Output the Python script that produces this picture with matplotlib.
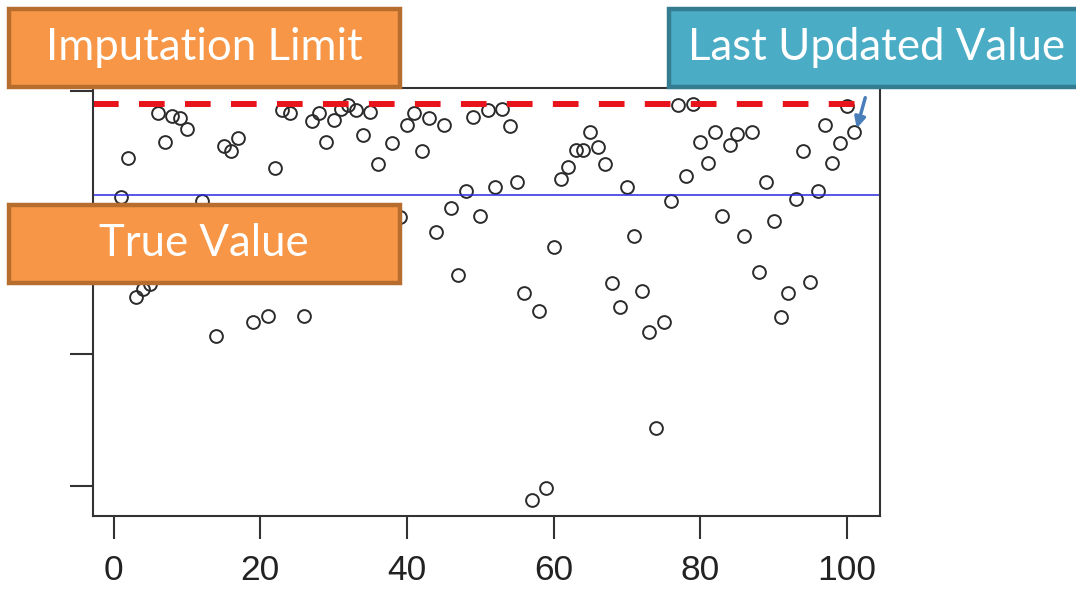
import matplotlib
matplotlib.use("Agg")
import matplotlib.pyplot as plt
from matplotlib.patches import Rectangle, FancyArrowPatch

# ---- data ----
idx = list(range(1, 102))
values = [2.19, 2.49, 1.43, 1.49, 1.53, 2.83, 2.61, 2.81, 2.79, 2.71,
          1.86, 2.16, 1.71, 1.14, 2.58, 2.54, 2.64, 1.98, 1.24, 1.79,
          1.29, 2.41, 2.85, 2.83, 1.64, 1.29, 2.77, 2.83, 2.61, 2.78,
          2.86, 2.89, 2.85, 2.66, 2.84, 2.44, 1.90, 2.60, 2.04, 2.74,
          2.83, 2.54, 2.79, 1.93, 2.74, 2.11, 1.60, 2.24, 2.80, 2.05,
          2.85, 2.27, 2.86, 2.73, 2.31, 1.46, -0.11, 1.33, -0.02, 1.81,
          2.33, 2.42, 2.55, 2.55, 2.69, 2.57, 2.44, 1.54, 1.36, 2.27,
          1.90, 1.48, 1.17, 0.44, 1.24, 2.16, 2.89, 2.35, 2.90, 2.61,
          2.45, 2.69, 2.05, 2.59, 2.67, 1.90, 2.69, 1.62, 2.31, 2.01,
          1.28, 1.46, 2.18, 2.54, 1.55, 2.24, 2.74, 2.45, 2.60, 2.88,
          2.69]
imputation_limit = 2.90
true_value = 2.205
x_ticks = [0, 20, 40, 60, 80, 100]
y_ticks = [0, 1, 2, 3]
box_labels = ["Imputation Limit", "True Value", "Last Updated Value"]

W, H = 1076, 594
fig = plt.figure(figsize=(W / 100, H / 100), dpi=100)
fig.patch.set_facecolor("white")

def fx(px):
    return px / W

def fy(py):
    return 1 - py / H

ax = fig.add_axes([fx(93), fy(516), fx(880) - fx(93), fy(88) - fy(516)])

ax.plot(idx, values, linestyle="none", marker="o", markersize=9.2,
        markerfacecolor="none", markeredgecolor="#2b2b2b", markeredgewidth=1.4)
ax.axhline(imputation_limit, color="#e8141c", linewidth=4.3,
           dashes=(4.3, 3.4), xmax=0.99)
ax.axhline(true_value, color="#2a2ae0", linewidth=1.1)

lo, hi = min(values), max(values)
pad = 0.04 * (hi - lo)
ax.set_ylim(lo - pad, hi + pad)
ax.set_xlim(-2.8, 104.5)
ax.set_xticks(x_ticks)
ax.set_xticklabels([str(t) for t in x_ticks])
ax.set_yticks(y_ticks)
ax.set_yticklabels([""] * len(y_ticks))
for s in ax.spines.values():
    s.set_linewidth(1.5)
    s.set_color("#333333")
ax.tick_params(axis="both", length=16.5, width=1.5, color="#333333")
ax.tick_params(axis="x", pad=11, labelsize=25.5, labelcolor="#222222")
for lab in ax.get_xticklabels():
    lab.set_family(["Liberation Sans", "DejaVu Sans"])

# ---- annotation boxes ----
def box(x0, y0, x1, y1, fill, edge, text, tx, ty):
    r = Rectangle((fx(x0), fy(y1)), fx(x1) - fx(x0), fy(y0) - fy(y1),
                  transform=fig.transFigure, facecolor=fill, edgecolor=edge,
                  linewidth=3.2, zorder=5, clip_on=False)
    fig.add_artist(r)
    fig.text(fx(tx), fy(ty), text, ha="center", va="center", color="white",
             fontsize=31.5, family=["Lato", "DejaVu Sans"], zorder=6)

box(9, 9, 400, 87, "#f79646", "#b66d2e", box_labels[0], 204.5, 48)
box(9, 205, 400, 283, "#f79646", "#b66d2e", box_labels[1], 204, 244)
box(669, 9, 1082, 87, "#4bacc6", "#347c90", box_labels[2], 876, 48)

arrow = FancyArrowPatch((fx(866), fy(95)), (fx(856), fy(131)),
                        transform=fig.transFigure, arrowstyle="-|>",
                        mutation_scale=16, linewidth=2.5, color="#4a7ebb",
                        zorder=7)
fig.add_artist(arrow)

fig.savefig("out.png", dpi=100)
